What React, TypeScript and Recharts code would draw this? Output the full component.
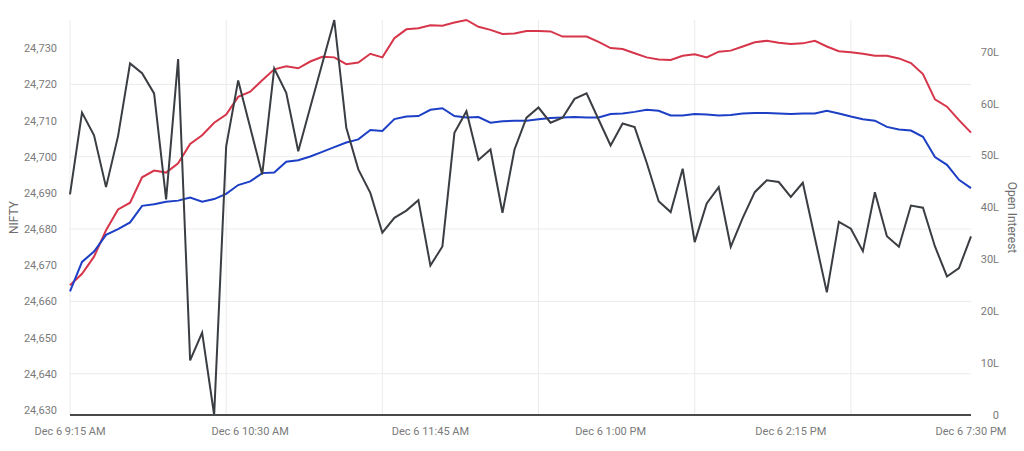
import {
  LineChart,
  Line,
  XAxis,
  YAxis,
  CartesianGrid,
} from "recharts";

// NIFTY spot, one point per sample
const nifty = [
  24689.6, 24712.2, 24705.9, 24691.6, 24705.7, 24725.8, 24723.1, 24717.5, 24688.2, 24727.0,
  24643.7, 24651.4, 24628.6, 24702.9, 24721.1, 24708.1, 24695.1, 24724.4, 24717.7, 24701.5,
  24713.7, 24725.8, 24737.8, 24708.0, 24696.5, 24690.0, 24679.0, 24683.1, 24685.1, 24688.0,
  24669.9, 24675.2, 24706.6, 24712.6, 24699.1, 24702.0, 24684.5, 24702.0, 24710.8, 24713.6,
  24709.4, 24710.8, 24716.0, 24717.5, 24710.3, 24703.1, 24709.2, 24708.2, 24698.4, 24687.7,
  24684.7, 24696.7, 24676.4, 24687.1, 24691.6, 24675.1, 24683.1, 24690.2, 24693.5, 24693.0,
  24688.9, 24692.8, 24677.6, 24662.5, 24682.0, 24680.1, 24673.9, 24690.2, 24678.0, 24675.1,
  24686.5, 24685.9, 24675.2, 24666.9, 24669.2, 24678.0,
];

// open interest in lakhs
const callOI = [
  25.0, 27.2, 30.5, 35.6, 39.6, 40.9, 45.8, 47.1, 46.7, 48.5,
  52.2, 53.9, 56.3, 57.9, 61.3, 62.3, 64.5, 66.6, 67.2, 66.8,
  68.1, 69.0, 68.9, 67.6, 67.9, 69.6, 68.9, 72.6, 74.3, 74.5,
  75.1, 75.0, 75.6, 76.1, 74.8, 74.2, 73.4, 73.5, 74.0, 74.0,
  73.9, 72.9, 72.9, 72.9, 71.9, 70.7, 70.5, 69.7, 68.9, 68.5,
  68.4, 69.2, 69.5, 68.9, 70.0, 70.2, 71.0, 71.8, 72.1, 71.7,
  71.5, 71.6, 72.1, 71.0, 70.1, 69.9, 69.6, 69.2, 69.2, 68.7,
  67.8, 65.7, 60.8, 59.4, 56.8, 54.4,
];

const putOI = [
  23.8, 29.5, 31.5, 34.7, 35.8, 37.1, 40.3, 40.6, 41.1, 41.3,
  41.9, 41.1, 41.6, 42.6, 44.3, 45.0, 46.6, 46.7, 48.8, 49.1,
  49.8, 50.7, 51.6, 52.5, 53.1, 54.9, 54.7, 57.0, 57.5, 57.6,
  58.8, 59.1, 57.6, 57.3, 57.4, 56.3, 56.6, 56.7, 56.7, 57.0,
  57.2, 57.3, 57.4, 57.3, 57.3, 58.0, 58.1, 58.4, 58.8, 58.6,
  57.7, 57.7, 58.0, 57.9, 57.7, 57.8, 58.1, 58.2, 58.2, 58.1,
  58.0, 58.1, 58.1, 58.6, 58.1, 57.5, 57.0, 56.7, 55.5, 55.0,
  54.8, 53.6, 49.7, 48.2, 45.3, 43.7,
];

// labels sit at even spacing, grid lines at a different step
const xTickIdx = [0, 15, 30, 45, 60, 75];
const xTickLabels = [
  "Dec 6 9:15 AM",
  "Dec 6 10:30 AM",
  "Dec 6 11:45 AM",
  "Dec 6 1:00 PM",
  "Dec 6 2:15 PM",
  "Dec 6 7:30 PM",
];
const xGridIdx = [0, 13, 26, 39, 52, 65];
const niftyTicks = [24630, 24640, 24650, 24660, 24670, 24680, 24690, 24700, 24710, 24720, 24730];
const niftyGrid = [24640, 24660, 24680, 24700, 24720];
const oiTicks = [0, 10, 20, 30, 40, 50, 60, 70];

const data = nifty.map((v, i) => ({
  idx: i,
  nifty: v,
  callOI: callOI[i],
  putOI: putOI[i],
}));

const FONT = "Roboto, 'Noto Sans', sans-serif";
const TICK_COLOR = "#7a7a7a";
const LEFT_W = 70;
const RIGHT_W = 53;
const W = 1024;

const LeftTick = ({ y, payload }: any) => (
  <text x={LEFT_W - 13} y={y} dy={4} textAnchor="end" fontSize={11} fill={TICK_COLOR} fontFamily={FONT}>
    {payload.value.toLocaleString("en-US")}
  </text>
);

const RightTick = ({ y, payload }: any) => (
  <text x={W - RIGHT_W + 28} y={y} dy={4} textAnchor="end" fontSize={11} fill={TICK_COLOR} fontFamily={FONT}>
    {payload.value === 0 ? "0" : `${payload.value}L`}
  </text>
);

const BottomTick = ({ x, payload }: any) => {
  const label = xTickLabels[xTickIdx.indexOf(payload.value)];
  return (
    <text x={x} y={435} textAnchor="middle" fontSize={11} fill={TICK_COLOR} fontFamily={FONT}>
      {label}
    </text>
  );
};

const AxisTitle = ({ viewBox, value, side }: any) => {
  const cx = side === "left" ? viewBox.x + 14 : viewBox.x + viewBox.width - 12;
  const cy = viewBox.y + viewBox.height / 2;
  return (
    <text
      x={cx}
      y={cy}
      transform={`rotate(${side === "left" ? -90 : 90}, ${cx}, ${cy})`}
      textAnchor="middle"
      dominantBaseline="central"
      fontSize={12}
      fill="#6f6f6f"
      fontFamily={FONT}
    >
      {value}
    </text>
  );
};

export default function App() {
  return (
    <div style={{ position: "absolute", left: 0, top: 0, background: "#fff" }}>
      <LineChart width={W} height={451} data={data} margin={{ top: 20, right: 0, bottom: 0, left: 0 }}>
        <CartesianGrid
          yAxisId="left"
          stroke="#ebebeb"
          horizontalValues={niftyGrid}
          verticalValues={xGridIdx}
        />
        <XAxis
          dataKey="idx"
          type="number"
          domain={[0, 75]}
          ticks={xTickIdx}
          interval={0}
          height={36}
          tick={<BottomTick />}
          tickLine={false}
          axisLine={{ stroke: "#4a4a4a", strokeWidth: 2 }}
        />
        <YAxis
          yAxisId="left"
          orientation="left"
          width={LEFT_W}
          domain={["dataMin", "dataMax"]}
          ticks={niftyTicks}
          interval={0}
          tick={<LeftTick />}
          tickLine={false}
          axisLine={false}
          label={<AxisTitle value="NIFTY" side="left" />}
        />
        <YAxis
          yAxisId="right"
          orientation="right"
          width={RIGHT_W}
          domain={[0, "dataMax"]}
          ticks={oiTicks}
          interval={0}
          tick={<RightTick />}
          tickLine={false}
          axisLine={false}
          label={<AxisTitle value="Open Interest" side="right" />}
        />
        <Line
          yAxisId="right"
          dataKey="callOI"
          type="linear"
          stroke="#d7354a"
          strokeWidth={2}
          dot={false}
          isAnimationActive={false}
        />
        <Line
          yAxisId="right"
          dataKey="putOI"
          type="linear"
          stroke="#1c3fc6"
          strokeWidth={2}
          dot={false}
          isAnimationActive={false}
        />
        <Line
          yAxisId="left"
          dataKey="nifty"
          type="linear"
          stroke="#3a3d42"
          strokeWidth={2}
          dot={false}
          isAnimationActive={false}
        />
      </LineChart>
    </div>
  );
}
